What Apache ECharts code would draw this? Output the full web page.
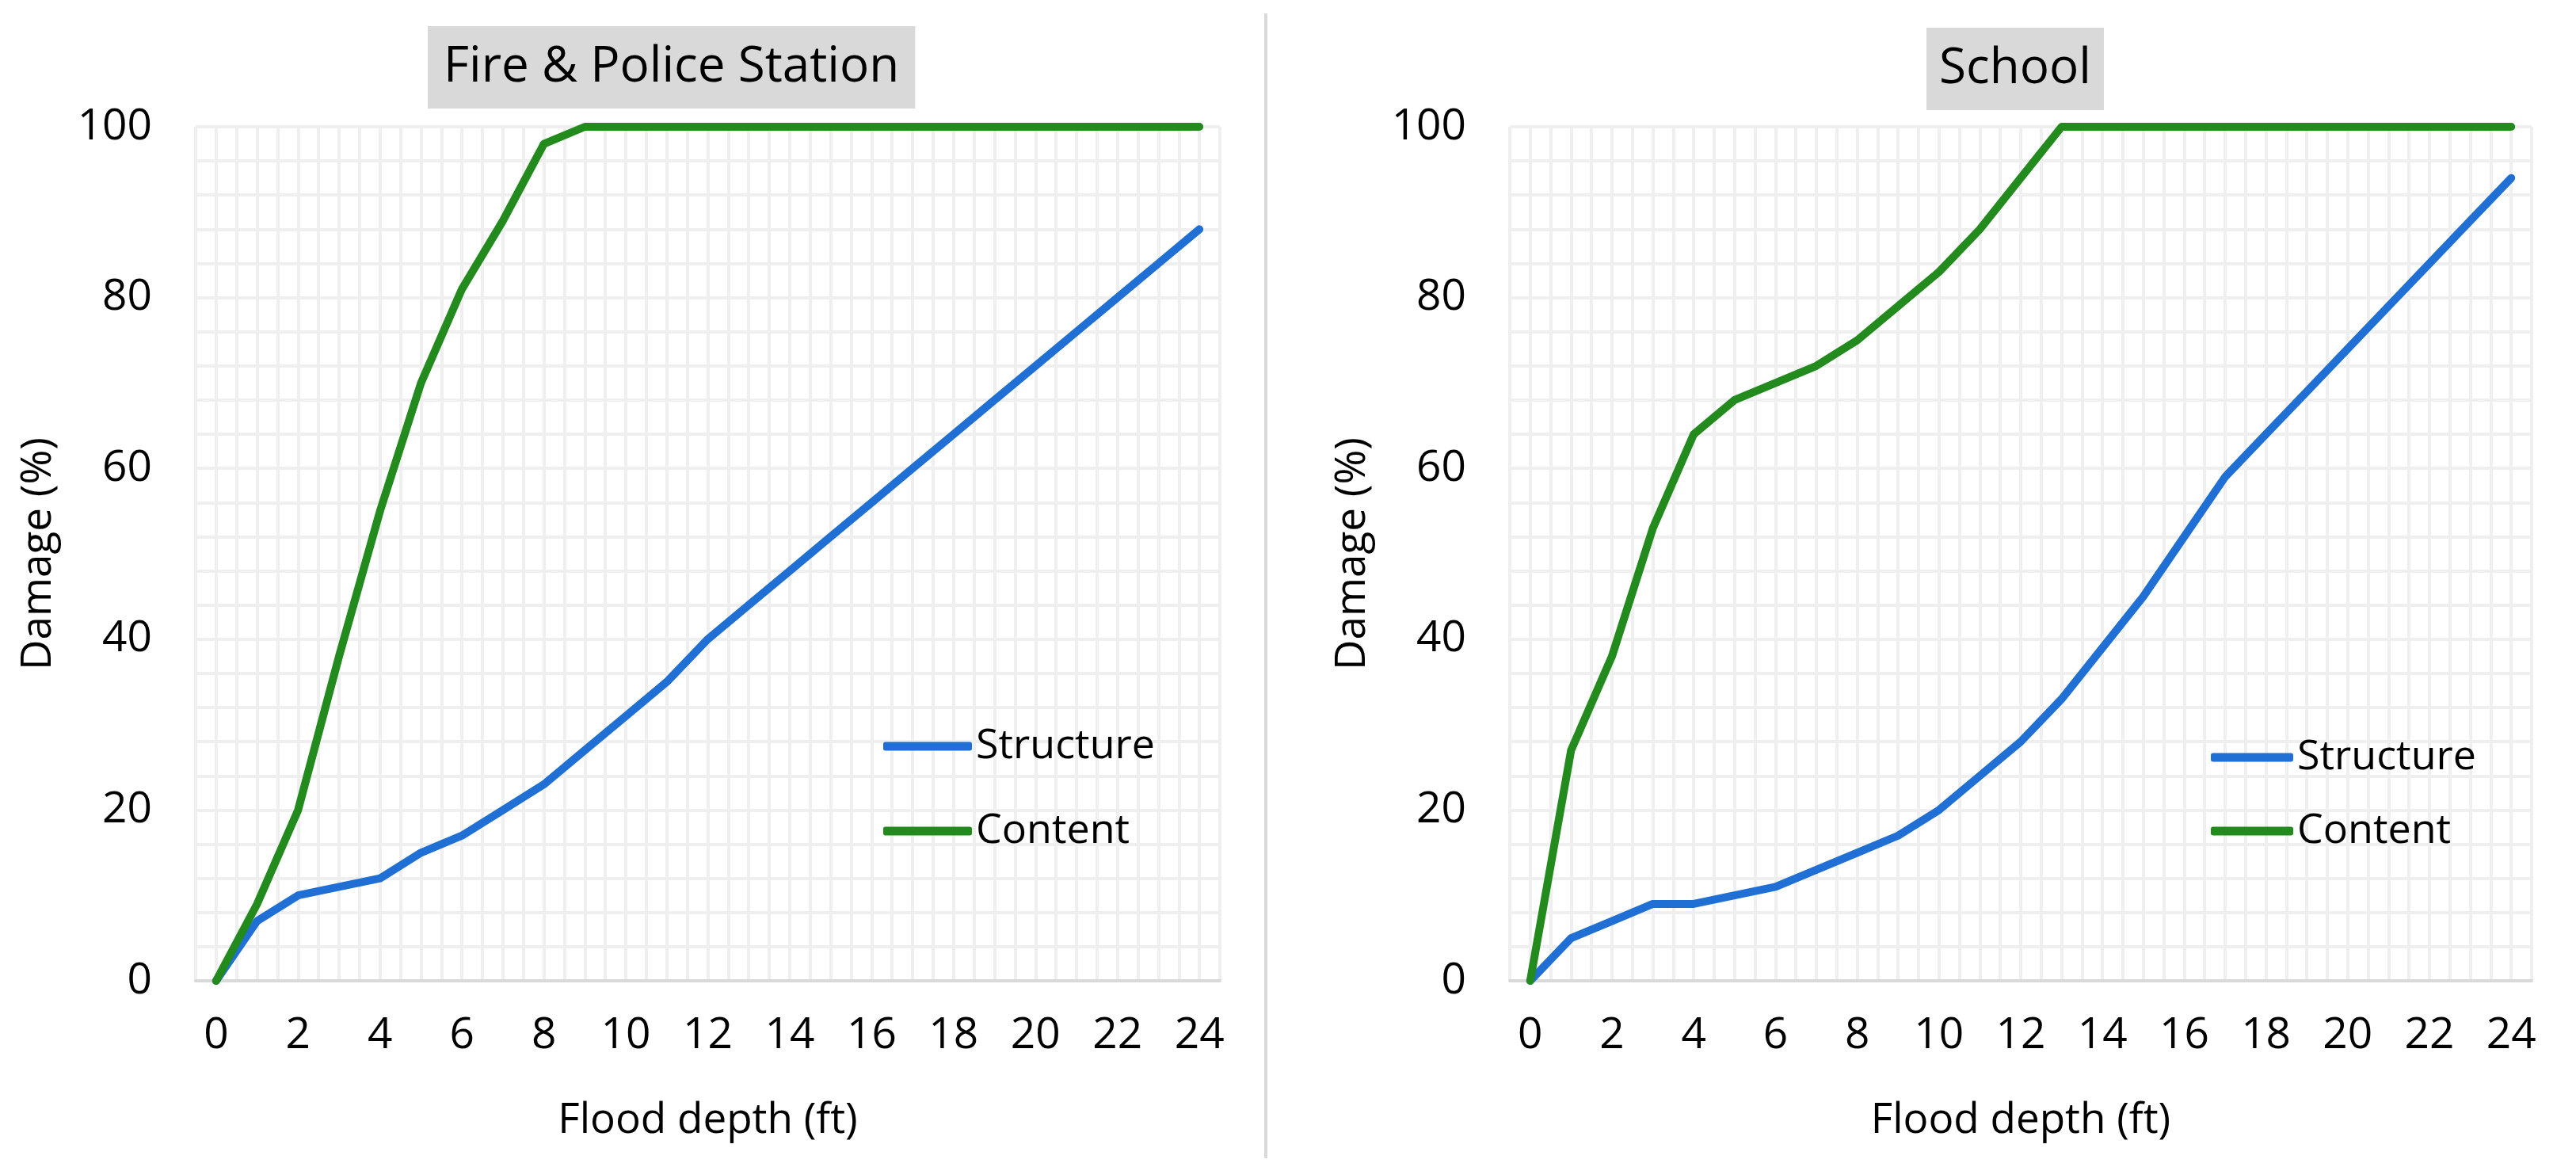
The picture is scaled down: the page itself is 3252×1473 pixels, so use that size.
<!DOCTYPE html>
<html>
<head>
<meta charset="utf-8">
<script src="https://cdn.jsdelivr.net/npm/echarts@6/dist/echarts.min.js"></script>
<style>
html,body{margin:0;padding:0;background:#fff;}
#chart{width:3252px;height:1473px;}
</style>
</head>
<body>
<div id="chart"></div>
<script>
// ---- data ----
const depth = [0,1,2,3,4,5,6,7,8,9,10,11,12,13,14,15,16,17,18,19,20,21,22,23,24];
const fireStructure = [0,7,10,11,12,15,17,20,23,27,31,35,40,44,48,52,56,60,64,68,72,76,80,84,88];
const fireContent   = [0,9,20,38,55,70,81,89,98,100,100,100,100,100,100,100,100,100,100,100,100,100,100,100,100];
const schoolStructure = [0,5,7,9,9,10,11,13,15,17,20,24,28,33,39,45,52,59,64,69,74,79,84,89,94];
const schoolContent   = [0,27,38,53,64,68,70,72,75,79,83,88,94,100,100,100,100,100,100,100,100,100,100,100,100];
const seriesNames = ['Structure','Content'];
const titles = ['Fire & Police Station','School'];
const xTickLabels = ['0','2','4','6','8','10','12','14','16','18','20','22','24'];
const yTickLabels = ['0','20','40','60','80','100'];
const xName = 'Flood depth (ft)';
const yName = 'Damage (%)';

const BLUE = '#1f6fd4';
const GREEN = '#238a1e';
const FONT = '"Open Sans", "Noto Sans", sans-serif';

function pairs(vals){ return depth.map((d,i)=>[d, vals[i]]); }

const grids = [
  {left:247, width:1293, top:160, height:1078},
  {left:1906, width:1290, top:160, height:1078}
];

function xAxis(gi){
  return {
    type:'value', gridIndex:gi, min:-0.5, max:24.5, interval:0.5,
    axisLine:{show:true, lineStyle:{color:'#d9d9d9', width:4}},
    axisTick:{show:false},
    splitLine:{show:true, lineStyle:{color:'#efefef', width:4}},
    axisLabel:{
      color:'#000', fontFamily:FONT, fontSize:55, margin:42,
      formatter:function(v){ const s = String(v); return xTickLabels.indexOf(s) >= 0 ? s : ''; }
    },
    name:xName, nameLocation:'middle', nameGap:150,
    nameTextStyle:{color:'#000', fontFamily:FONT, fontSize:53}
  };
}
function yAxis(gi){
  return {
    type:'value', gridIndex:gi, min:0, max:100, interval:4,
    axisLine:{show:false}, axisTick:{show:false},
    splitLine:{show:true, lineStyle:{color:'#efefef', width:4}},
    axisLabel:{
      color:'#000', fontFamily:FONT, fontSize:55, margin:55,
      formatter:function(v){ const s = String(v); return yTickLabels.indexOf(s) >= 0 ? s : ''; }
    },
    name:yName, nameLocation:'middle', nameGap:172, nameRotate:90,
    nameTextStyle:{color:'#000', fontFamily:FONT, fontSize:53}
  };
}
function lineSeries(name, gi, vals, color){
  return {
    type:'line', name:name, xAxisIndex:gi, yAxisIndex:gi,
    data:pairs(vals), showSymbol:false, symbol:'none', color:color,
    lineStyle:{color:color, width:10, cap:'round', join:'round'},
    animation:false
  };
}

const chart = echarts.init(document.getElementById('chart'), null, {renderer:'canvas'});
chart.setOption({
  backgroundColor:'#ffffff',
  animation:false,
  title:[
    {text:titles[0], left:540, top:33, backgroundColor:'#d9d9d9', padding:[18,20,18,20],
     textStyle:{color:'#000', fontFamily:FONT, fontSize:62, fontWeight:'normal', lineHeight:68}},
    {text:titles[1], left:2432, top:35, backgroundColor:'#d9d9d9', padding:[18,16,18,16],
     textStyle:{color:'#000', fontFamily:FONT, fontSize:62, fontWeight:'normal', lineHeight:68}}
  ],
  grid:grids,
  xAxis:[xAxis(0), xAxis(1)],
  yAxis:[yAxis(0), yAxis(1)],
  legend:[
    {data:seriesNames, orient:'vertical', left:1115, top:912, padding:0, itemGap:47,
     icon:'roundRect', itemWidth:112, itemHeight:11,
     textStyle:{color:'#000', fontFamily:FONT, fontSize:52, lineHeight:60}},
    {data:seriesNames, orient:'vertical', left:2791, top:926, padding:0, itemGap:33,
     icon:'roundRect', itemWidth:104, itemHeight:11,
     textStyle:{color:'#000', fontFamily:FONT, fontSize:52, lineHeight:60}}
  ],
  series:[
    lineSeries(seriesNames[0], 0, fireStructure, BLUE),
    lineSeries(seriesNames[1], 0, fireContent, GREEN),
    lineSeries(seriesNames[0], 1, schoolStructure, BLUE),
    lineSeries(seriesNames[1], 1, schoolContent, GREEN)
  ],
  graphic:[
    {type:'line', shape:{x1:1598, y1:17, x2:1598, y2:1462}, style:{stroke:'#d9d9d9', lineWidth:4}, silent:true}
  ]
});
</script>
</body>
</html>
